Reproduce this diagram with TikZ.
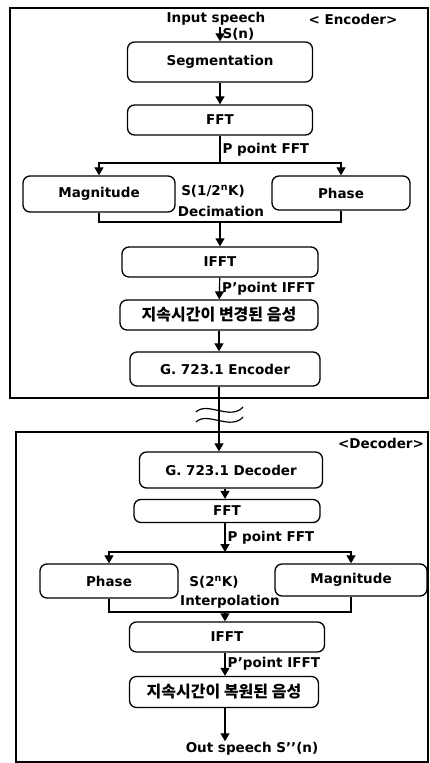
\documentclass[tikz,border=0pt]{standalone}
\usepackage{fontspec}
\setmainfont{DejaVu Sans}
\newfontfamily\kofont{Noto Sans CJK KR}
\usetikzlibrary{arrows.meta,positioning}

\begin{document}
\begin{tikzpicture}[x=1pt,y=-1pt,
  every node/.style={align=center,font=\fontsize{13.5}{16}\selectfont\bfseries,inner sep=1pt},
  blk/.style={draw,line width=1.3pt,rounded corners=7pt,inner sep=0pt},
  kor/.style={font=\fontsize{16}{19}\selectfont\kofont\bfseries},
  lbl/.style={inner sep=2pt},
  arr/.style={-{Triangle[width=9pt,length=8pt]},line width=1.2pt},
  ln/.style={line width=1.2pt},
  frm/.style={line width=1.1pt}]
\useasboundingbox (0,0) rectangle (429,763);
% frames
\draw[frm] (10,8) rectangle (428,398);
\draw[frm] (16,432) rectangle (428,762);
% encoder
\node (inp) at (216,19) {Input speech};
\node (enctag) at (353,19) {< Encoder>};
\node[blk,minimum width=185pt,minimum height=40pt] (seg) at (220,62) {Segmentation};
\node[blk,minimum width=185pt,minimum height=30pt] (fft) at (220,120) {FFT};
\coordinate (encsplit) at (220,163);
\node[blk,minimum width=152pt,minimum height=36pt] (mag) at (99,194) {Magnitude};
\node[blk,minimum width=138pt,minimum height=34pt] (pha) at (341,193) {Phase};
\node (sdec) at (213,191) {S(1/2\textsuperscript{n}K)};
\node (decim) at (221,211) {Decimation};
\coordinate (encjoin) at (220,222);
\node[blk,minimum width=196pt,minimum height=30pt] (ifft) at (220,262) {IFFT};
\node[blk,kor,minimum width=198pt,minimum height=30pt] (chg) at (219,315) {지속시간이 변경된 음성};
\node[blk,minimum width=190pt,minimum height=34pt] (g7enc) at (225,369) {G. 723.1 Encoder};
\draw[arr] (inp.south -| seg) -- (seg) node[lbl,midway,right] (sn) {S(n)};
\draw[arr] (seg) -- (fft);
\draw[ln] (fft) -- (encsplit) node[lbl,midway,right] (ppt) {P point FFT};
\draw[arr] (encsplit) -| (mag.north);
\draw[arr] (encsplit) -| (pha.north);
\draw[ln] (mag.south) |- (encjoin) -| (pha.south);
\draw[arr] (encjoin) -- (ifft);
\draw[arr] (ifft) -- (chg) node[lbl,midway,right] (pip) {P'point IFFT};
\draw[arr] (chg) -- (g7enc.north -| chg);
% channel
\node[blk,minimum width=183pt,minimum height=36pt] (g7dec) at (231,470) {G. 723.1 Decoder};
\draw[arr] (g7enc.south -| chg) -- (g7dec.north -| chg);
\draw[ln] (196,412) .. controls (207,401) and (231,421) .. (243,407);
\draw[ln] (196,422) .. controls (207,411) and (231,431) .. (243,417);
% decoder
\node (dectag) at (381,443) {<Decoder>};
\node[blk,minimum width=186pt,minimum height=23pt] (fft2) at (227,511) {FFT};
\coordinate (decsplit) at (225,552);
\node[blk,minimum width=138pt,minimum height=34pt] (pha2) at (109,581) {Phase};
\node[blk,minimum width=152pt,minimum height=32pt] (mag2) at (351,580) {Magnitude};
\node (sint) at (214,582) {S(2\textsuperscript{n}K)};
\node (interp) at (230,602) {Interpolation};
\coordinate (decjoin) at (225,612);
\node[blk,minimum width=195pt,minimum height=30pt] (ifft2) at (227,637) {IFFT};
\node[blk,kor,minimum width=189pt,minimum height=31pt] (rst) at (224,692) {지속시간이 복원된 음성};
\node (outp) at (252,749) {Out speech S'{}'(n)};
\draw[arr] (g7dec.south -| decsplit) -- (fft2.north -| decsplit);
\draw[arr] (fft2.south -| decsplit) -- (decsplit) node[lbl,midway,right] (ppt2) {P point FFT};
\draw[arr] (decsplit) -| (pha2.north);
\draw[arr] (decsplit) -| (mag2.north);
\draw[ln] (pha2.south) |- (decjoin) -| (mag2.south);
\draw[arr] (decjoin) -- (ifft2.north -| decjoin);
\draw[arr] (ifft2.south -| decjoin) -- (rst.north -| decjoin) node[lbl,midway,right] (pip2) {P'point IFFT};
\draw[arr] (rst.south -| decjoin) -- (outp.north -| decjoin);
\end{tikzpicture}
\end{document}
